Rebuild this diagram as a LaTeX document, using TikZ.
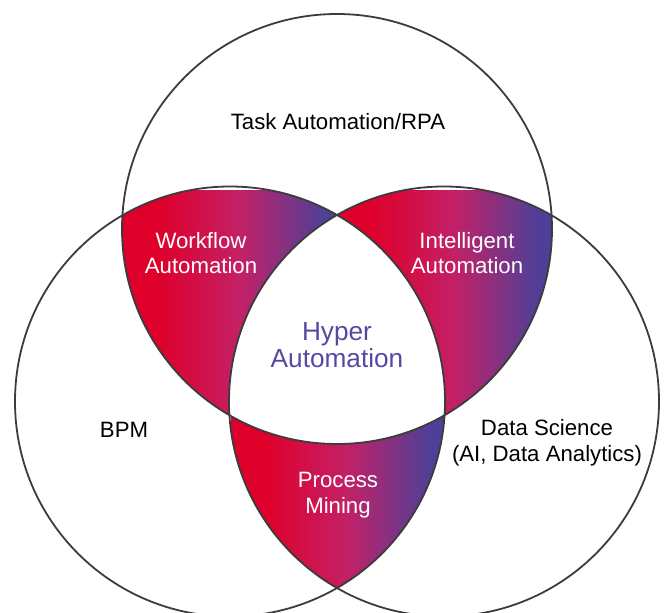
\documentclass[tikz,border=0pt]{standalone}
\usepackage{fontspec}
\setmainfont{Liberation Sans}
\definecolor{vred}{RGB}{222,0,42}
\definecolor{vmag}{RGB}{196,32,102}
\definecolor{vblue}{RGB}{78,64,152}
\definecolor{hyper}{RGB}{88,72,162}
\definecolor{edge}{RGB}{60,60,60}
\pgfdeclarehorizontalshading{venngrad}{100bp}{color(0bp)=(vred); color(25bp)=(vred); color(33bp)=(vred); color(52bp)=(vmag); color(72bp)=(vblue); color(100bp)=(vblue)}
\begin{document}
\begin{tikzpicture}[x=1pt,y=-1pt,
  ring/.style={draw=edge, line width=1.8pt},
  lbl/.style={font=\fontsize{22.2}{25.5}\selectfont, align=center, inner sep=0pt},
  wlbl/.style={lbl, text=white},
  hyp/.style={font=\fontsize{26.2}{27}\selectfont, align=center, inner sep=0pt, text=hyper}]
\useasboundingbox (0,0) rectangle (665,613);
\clip (0,0) rectangle (665,613);
\coordinate (T) at (337,229);
\coordinate (L) at (230,401.5);
\coordinate (Rc) at (444,401.5);
% Workflow
\begin{scope}
  \clip (T) circle[radius=215pt];
  \clip (L) circle[radius=215pt];
  \shade[shading=venngrad] (122.7,190) rectangle (337.7,420);
\end{scope}
% Intelligent
\begin{scope}
  \clip (T) circle[radius=215pt];
  \clip (Rc) circle[radius=215pt];
  \shade[shading=venngrad] (337,190) rectangle (551,420);
\end{scope}
% Process mining
\begin{scope}
  \clip (L) circle[radius=215pt];
  \clip (Rc) circle[radius=215pt];
  \shade[shading=venngrad] (231,410) rectangle (443.3,590);
\end{scope}
% centre white
\begin{scope}
  \clip (T) circle[radius=215pt];
  \clip (L) circle[radius=215pt];
  \fill[white] (Rc) circle[radius=215pt];
\end{scope}
\draw[ring] (T) circle[radius=215pt];
\draw[ring] (L) circle[radius=215pt];
\draw[ring] (Rc) circle[radius=215pt];
\node[lbl] (task) at (338,122) {Task Automation/RPA};
\node[wlbl] (wf) at (201,253) {Workflow\\Automation};
\node[wlbl] (ia) at (467,253) {Intelligent\\Automation};
\node[hyp] (ha) at (337,345) {Hyper\\Automation};
\node[lbl] (bpm) at (124,430) {BPM};
\node[lbl] (ds) at (547,443) {Data Science\\(AI, Data Analytics)};
\node[wlbl] (pm) at (338,495) {Process\\Mining};
\end{tikzpicture}
\end{document}
